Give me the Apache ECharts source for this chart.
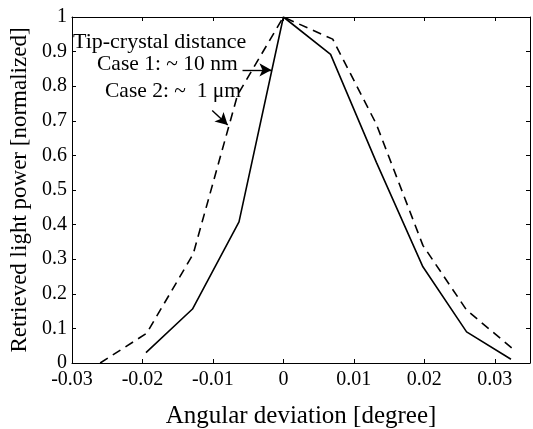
<!DOCTYPE html>
<html>
<head>
<meta charset="utf-8">
<script src="https://cdn.jsdelivr.net/npm/echarts@6/dist/echarts.min.js"></script>
<style>
html,body{margin:0;padding:0;background:#fff;}
#chart{width:533px;height:429px;}
</style>
</head>
<body>
<div id="chart"></div>
<script>
// Data
var case1X = [-0.0195, -0.0129, -0.0063, 0, 0.0067, 0.0132, 0.0198, 0.026, 0.0323];
var case1Y = [0.03, 0.156, 0.408, 1, 0.892, 0.58, 0.278, 0.09, 0.011];
var case2X = [-0.026, -0.0194, -0.0128, -0.0065, 0, 0.007, 0.0132, 0.0198, 0.026, 0.0325];
var case2Y = [0, 0.086, 0.315, 0.775, 1, 0.936, 0.69, 0.34, 0.153, 0.042];
var xTicks = [-0.03, -0.02, -0.01, 0, 0.01, 0.02, 0.03];
var yTicks = [0, 0.1, 0.2, 0.3, 0.4, 0.5, 0.6, 0.7, 0.8, 0.9, 1];
var annotationLines = ['Tip-crystal distance', 'Case 1: ~ 10 nm', 'Case 2: ~  1 \u03bcm'];
// arrows in data space: [fromX, fromY, toX, toY]
var arrow1 = [-0.0058, 0.847, -0.0017, 0.847];
var arrow2 = [-0.0101, 0.73, -0.0079, 0.688];

function zip(xs, ys){ return xs.map(function(x,i){ return [x, ys[i]]; }); }

var font = '"Liberation Serif", "DejaVu Serif", serif';
var chart = echarts.init(document.getElementById('chart'), null, {renderer:'canvas'});

function fmtX(v){
  if (v > 0.0305 + 1e-9) return '';
  var r = Math.round(v*100)/100;
  return r === 0 ? '0' : String(r);
}
function fmtY(v){
  var r = Math.round(v*10)/10;
  return String(r);
}

var axisLine = {show:true, onZero:false, lineStyle:{color:'#000', width:1}};
var tick = {show:true, inside:true, length:4, lineStyle:{color:'#000'}};
var option = {
  animation:false,
  backgroundColor:'#fff',
  grid:{left:72, right:3, top:17, bottom:66, containLabel:false, outerBoundsMode:'none'},
  xAxis:[{
    type:'value', min:-0.03, max:0.035, interval:0.01,
    axisLine:axisLine, axisTick:tick,
    axisLabel:{color:'#000', fontFamily:font, fontSize:20, margin:7, formatter:fmtX},
    splitLine:{show:false},
    name:'Angular deviation [degree]', nameLocation:'middle', nameGap:41,
    nameTextStyle:{color:'#000', fontFamily:font, fontSize:25}
  },{
    type:'value', position:'top', min:-0.03, max:0.035, interval:0.01,
    axisLine:axisLine, axisTick:tick,
    axisLabel:{show:false}, splitLine:{show:false}
  }],
  yAxis:[{
    type:'value', min:0, max:1, interval:0.1,
    axisLine:axisLine, axisTick:tick,
    axisLabel:{color:'#000', fontFamily:font, fontSize:20, margin:5, formatter:fmtY},
    splitLine:{show:false},
    name:'Retrieved light power [normalized]', nameLocation:'middle', nameGap:40,
    nameTextStyle:{color:'#000', fontFamily:font, fontSize:23}
  },{
    type:'value', position:'right', min:0, max:1, interval:0.1,
    axisLine:axisLine, axisTick:tick,
    axisLabel:{show:false}, splitLine:{show:false}
  }],
  graphic:[
    {type:'text', left:73, top:31, style:{text:annotationLines[0], font:'22px '+font, fill:'#000'}},
    {type:'text', left:97, top:53, style:{text:annotationLines[1], font:'21.5px '+font, fill:'#000'}},
    {type:'text', left:105, top:80, style:{text:annotationLines[2], font:'21.5px '+font, fill:'#000'}}
  ],
  series:[
    {
      name:'Case 1', type:'line', data:zip(case1X, case1Y),
      showSymbol:false, symbol:'none',
      lineStyle:{color:'#000', width:1.6, type:'solid'},
      markLine:{
        silent:true, symbol:['none','arrow'], symbolSize:[10,12], label:{show:false},
        lineStyle:{color:'#000', width:1.4, type:'solid'},
        data:[
          [{coord:[arrow1[0], arrow1[1]]},{coord:[arrow1[2], arrow1[3]]}],
          [{coord:[arrow2[0], arrow2[1]]},{coord:[arrow2[2], arrow2[3]]}]
        ]
      }
    },
    {
      name:'Case 2', type:'line', data:zip(case2X, case2Y),
      showSymbol:false, symbol:'none',
      lineStyle:{color:'#000', width:1.6, type:[9,6]}
    }
  ]
};
chart.setOption(option);
</script>
</body>
</html>
